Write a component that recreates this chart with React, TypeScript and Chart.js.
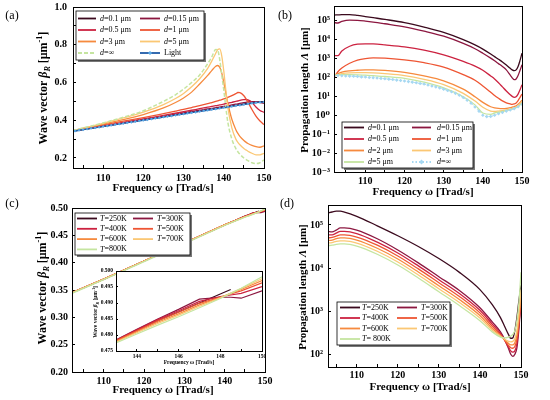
import React, { useEffect, useRef } from "react";
import { Chart, registerables } from "chart.js";

Chart.register(...registerables);

const SERIF = '"Liberation Serif", "DejaVu Serif", serif';
Chart.defaults.font.family = SERIF;
Chart.defaults.color = "#000";

// ---------------- colours ----------------
const C1 = "#3b0a1e";
const C2 = "#8c1740";
const C3 = "#cc2240";
const C4 = "#ee5533";
const C5 = "#f68a3e";
const C6 = "#fbc774";
const C7 = "#c5e5a0";
const LIGHT_LINE = "#1f5aa6";
const LIGHT_MARK = "#5aaae6";
const INF_BLUE = "#a6d8f2";

// ---------------- panel (a): wave vector vs frequency, thickness d ----------------
const aLabels = ["d=0.1 μm", "d=0.15 μm", "d=0.5 μm", "d=1 μm", "d=3 μm", "d=5 μm", "d=∞", "Light"];
const aFreq = [102.5, 105, 110, 115, 120, 125, 128, 130, 132, 134, 136, 137, 138, 138.5, 139, 139.5, 140, 140.5, 141, 142, 143, 143.5, 144, 145, 145.5, 146, 147, 148, 149, 150];
const aBeta01 = [0.343, 0.351, 0.368, 0.385, 0.402, 0.419, 0.429, 0.436, 0.443, 0.449, 0.456, 0.459, 0.463, 0.464, 0.466, 0.468, 0.469, 0.471, 0.473, 0.476, 0.479, 0.481, 0.483, 0.486, 0.488, 0.489, 0.492, 0.495, 0.498, 0.499];
const aBeta015 = [0.343, 0.352, 0.369, 0.386, 0.404, 0.421, 0.432, 0.439, 0.446, 0.453, 0.46, 0.463, 0.467, 0.468, 0.47, 0.472, 0.474, 0.475, 0.477, 0.481, 0.485, 0.487, 0.489, 0.493, 0.495, 0.497, 0.499, 0.498, 0.494, 0.49];
const aBeta05 = [0.344, 0.353, 0.371, 0.389, 0.407, 0.426, 0.437, 0.445, 0.453, 0.461, 0.469, 0.473, 0.477, 0.479, 0.481, 0.483, 0.486, 0.488, 0.49, 0.495, 0.5, 0.502, 0.505, 0.509, 0.51, 0.508, 0.495, 0.47, 0.452, 0.442];
const aBeta1 = [0.345, 0.355, 0.375, 0.395, 0.414, 0.435, 0.448, 0.457, 0.467, 0.477, 0.488, 0.494, 0.5, 0.503, 0.506, 0.509, 0.513, 0.517, 0.521, 0.53, 0.541, 0.547, 0.546, 0.53, 0.515, 0.497, 0.457, 0.422, 0.396, 0.377];
const aBeta3 = [0.345, 0.357, 0.38, 0.403, 0.43, 0.465, 0.494, 0.518, 0.549, 0.592, 0.638, 0.663, 0.686, 0.69, 0.68, 0.65, 0.6, 0.545, 0.49, 0.405, 0.35, 0.33, 0.315, 0.293, 0.284, 0.277, 0.267, 0.26, 0.257, 0.264];
const aBeta5 = [0.345, 0.358, 0.384, 0.412, 0.443, 0.483, 0.515, 0.542, 0.577, 0.62, 0.675, 0.713, 0.755, 0.775, 0.778, 0.74, 0.66, 0.56, 0.47, 0.36, 0.3, 0.283, 0.27, 0.25, 0.243, 0.236, 0.225, 0.217, 0.217, 0.225];
const aBetaInf = [0.345, 0.359, 0.386, 0.416, 0.45, 0.5, 0.535, 0.565, 0.6, 0.64, 0.7, 0.735, 0.775, 0.77, 0.72, 0.64, 0.56, 0.47, 0.39, 0.3, 0.25, 0.233, 0.22, 0.2, 0.193, 0.186, 0.175, 0.17, 0.175, 0.19];
const aLightFreq = [102.5, 103, 104, 105, 106, 107, 108, 109, 110, 111, 112, 113, 114, 115, 116, 117, 118, 119, 120, 121, 122, 123, 124, 125, 126, 127, 128, 129, 130, 131, 132, 133, 134, 135, 136, 137, 138, 139, 140, 141, 142, 143, 144, 145, 146, 147, 148, 149, 150];
const aLightBeta = [0.342, 0.343, 0.347, 0.35, 0.353, 0.357, 0.36, 0.363, 0.367, 0.37, 0.373, 0.377, 0.38, 0.383, 0.387, 0.39, 0.393, 0.397, 0.4, 0.403, 0.407, 0.41, 0.413, 0.417, 0.42, 0.423, 0.427, 0.43, 0.433, 0.437, 0.44, 0.443, 0.447, 0.45, 0.453, 0.457, 0.46, 0.463, 0.467, 0.47, 0.473, 0.477, 0.48, 0.483, 0.487, 0.49, 0.493, 0.495, 0.497];
const aXTicks = [105, 110, 115, 120, 125, 130, 135, 140, 145, 150];
const aYTicks = [0.2, 0.3, 0.4, 0.5, 0.6, 0.7, 0.8, 0.9, 1.0];

// ---------------- panel (b): propagation length (powers of ten, μm) ----------------
const bLabels = ["d=0.1 μm", "d=0.15 μm", "d=0.5 μm", "d=1 μm", "d=2 μm", "d=3 μm", "d=5 μm", "d=∞"];
const bFreq = [102, 103, 104, 106, 108, 110, 112, 115, 120, 125, 130, 135, 138, 140, 142, 143, 144, 145, 146, 147, 147.5, 148, 148.5, 149, 149.5, 150];
const bExp01 = [5.3, 5.31, 5.32, 5.32, 5.28, 5.22, 5.16, 5.07, 4.9, 4.66, 4.38, 4.0, 3.72, 3.5, 3.24, 3.1, 2.96, 2.82, 2.66, 2.48, 2.4, 2.36, 2.4, 2.58, 2.9, 3.28];
const bExp015 = [4.9, 4.88, 4.96, 5.03, 5.02, 4.98, 4.93, 4.84, 4.68, 4.45, 4.18, 3.8, 3.52, 3.28, 3.02, 2.88, 2.73, 2.58, 2.4, 2.12, 1.98, 1.88, 1.92, 2.1, 2.38, 2.67];
const bExp05 = [3.15, 3.15, 3.4, 3.65, 3.76, 3.78, 3.77, 3.72, 3.62, 3.45, 3.2, 2.85, 2.6, 2.38, 2.08, 1.92, 1.72, 1.5, 1.28, 1.08, 1.0, 0.95, 0.98, 1.12, 1.35, 1.62];
const bExp1 = [2.0, 2.3, 2.5, 2.75, 2.92, 3.0, 3.03, 3.02, 2.93, 2.78, 2.55, 2.15, 1.85, 1.55, 1.22, 1.05, 0.9, 0.76, 0.66, 0.6, 0.58, 0.6, 0.65, 0.78, 0.95, 1.12];
const bExp2 = [2.1, 2.2, 2.28, 2.35, 2.38, 2.4, 2.4, 2.37, 2.27, 2.08, 1.82, 1.38, 0.98, 0.68, 0.45, 0.39, 0.36, 0.35, 0.36, 0.4, 0.43, 0.46, 0.5, 0.58, 0.68, 0.8];
const bExp3 = [2.1, 2.15, 2.2, 2.24, 2.25, 2.25, 2.24, 2.2, 2.1, 1.9, 1.62, 1.16, 0.75, 0.42, 0.22, 0.2, 0.22, 0.25, 0.29, 0.33, 0.36, 0.39, 0.43, 0.5, 0.6, 0.72];
const bExp5 = [2.12, 2.13, 2.15, 2.15, 2.14, 2.12, 2.1, 2.05, 1.95, 1.75, 1.45, 0.98, 0.55, 0.12, 0.05, 0.12, 0.16, 0.2, 0.25, 0.3, 0.33, 0.36, 0.4, 0.46, 0.55, 0.65];
const bInfFreq = [102, 103, 104, 105, 106, 107, 108, 109, 110, 111, 112, 113, 114, 115, 116, 117, 118, 119, 120, 121, 122, 123, 124, 125, 126, 127, 128, 129, 130, 131, 132, 133, 134, 135, 136, 137, 138, 139, 140, 141, 142, 143, 144, 145, 146, 147, 148, 149, 150];
const bExpInf = [2.1, 2.1, 2.09, 2.08, 2.07, 2.06, 2.05, 2.03, 2.02, 2.0, 1.99, 1.97, 1.95, 1.93, 1.91, 1.89, 1.86, 1.84, 1.81, 1.78, 1.75, 1.72, 1.68, 1.65, 1.6, 1.55, 1.5, 1.44, 1.38, 1.31, 1.24, 1.16, 1.06, 0.94, 0.8, 0.64, 0.44, 0.22, 0.0, -0.07, -0.06, 0.0, 0.08, 0.15, 0.22, 0.28, 0.35, 0.45, 0.58];
const bXTicks = [105, 110, 115, 120, 125, 130, 135, 140, 145, 150];
const bYTicks = [1e-3, 1e-2, 1e-1, 1, 1e1, 1e2, 1e3, 1e4, 1e5];

// ---------------- panel (c): wave vector vs frequency, temperature T ----------------
const cLabels = ["T=250K", "T=300K", "T=400K", "T=500K", "T=600K", "T=700K", "T=800K"];
const cFreq = [102.1, 110, 120, 130, 140, 143, 144, 145, 146, 147, 148, 148.5, 149, 150];
const cBeta250 = [0.345, 0.37, 0.403, 0.436, 0.469, 0.4783, 0.4815, 0.4845, 0.4872, 0.49, 0.4928, 0.4942, null, null];
const cBeta300 = [0.345, 0.37, 0.403, 0.436, 0.469, 0.4785, 0.4818, 0.485, 0.488, 0.4912, 0.4918, 0.4918, 0.4915, 0.4938];
const cBeta400 = [0.345, 0.37, 0.403, 0.436, 0.469, 0.4784, 0.4816, 0.4848, 0.4876, 0.4905, 0.492, 0.4925, 0.493, 0.4951];
const cBeta500 = [0.345, 0.37, 0.403, 0.436, 0.469, 0.4782, 0.4813, 0.4844, 0.4871, 0.4899, 0.4918, 0.4928, 0.4938, 0.4963];
const cBeta600 = [0.345, 0.37, 0.403, 0.436, 0.469, 0.478, 0.481, 0.484, 0.4866, 0.4894, 0.4917, 0.493, 0.4942, 0.497];
const cBeta700 = [0.345, 0.37, 0.403, 0.436, 0.469, 0.4778, 0.4807, 0.4836, 0.4862, 0.489, 0.4916, 0.4931, 0.4945, 0.4976];
const cBeta800 = [0.344, 0.369, 0.402, 0.435, 0.468, 0.4775, 0.4803, 0.4831, 0.4857, 0.4885, 0.4914, 0.493, 0.4946, 0.4982];
const cXTicks = [105, 110, 115, 120, 125, 130, 135, 140, 145, 150];
const cYTicks = [0.2, 0.25, 0.3, 0.35, 0.4, 0.45, 0.5];
const insetXTicks = [144, 145, 146, 147, 148, 149, 150];
const insetYTicks = [0.475, 0.48, 0.485, 0.49, 0.495, 0.5];

// ---------------- panel (d): propagation length (powers of ten, μm), temperature ----------------
const dLabels = ["T=250K", "T=300K", "T=400K", "T=500K", "T=600K", "T=700K", "T= 800K"];
const dFreq = [103, 104, 105, 106, 107, 110, 115, 120, 125, 130, 135, 140, 143, 145, 146, 147, 147.5, 148, 148.5, 149, 149.5, 150];
const dExp250 = [5.28, 5.3, 5.32, 5.32, 5.3, 5.2, 4.98, 4.75, 4.5, 4.22, 3.9, 3.5, 3.15, 2.85, 2.65, 2.45, 2.37, 2.38, 2.55, 2.85, 3.25, 3.6];
const dExp300 = [4.85, 4.84, 4.88, 4.93, 4.93, 4.88, 4.68, 4.42, 4.12, 3.8, 3.48, 3.08, 2.75, 2.52, 2.35, 2.12, 2.0, 1.95, 2.0, 2.15, 2.6, 3.25];
const dExp400 = [4.77, 4.77, 4.81, 4.85, 4.85, 4.8, 4.6, 4.35, 4.05, 3.73, 3.41, 3.02, 2.7, 2.48, 2.33, 2.16, 2.08, 2.05, 2.08, 2.25, 2.7, 3.3];
const dExp500 = [4.7, 4.71, 4.74, 4.77, 4.77, 4.72, 4.53, 4.28, 3.98, 3.66, 3.34, 2.96, 2.65, 2.45, 2.33, 2.2, 2.15, 2.14, 2.18, 2.35, 2.75, 3.25];
const dExp600 = [4.64, 4.65, 4.68, 4.7, 4.7, 4.65, 4.46, 4.21, 3.91, 3.59, 3.27, 2.9, 2.6, 2.43, 2.34, 2.25, 2.22, 2.22, 2.27, 2.45, 2.85, 3.35];
const dExp700 = [4.58, 4.59, 4.62, 4.63, 4.63, 4.58, 4.39, 4.14, 3.84, 3.52, 3.2, 2.84, 2.56, 2.42, 2.35, 2.3, 2.29, 2.3, 2.36, 2.55, 2.95, 3.5];
const dExp800 = [4.52, 4.53, 4.55, 4.56, 4.56, 4.51, 4.32, 4.07, 3.77, 3.45, 3.13, 2.78, 2.52, 2.4, 2.38, 2.4, 2.42, 2.46, 2.55, 2.78, 3.2, 3.9];
const dXTicks = [105, 110, 115, 120, 125, 130, 135, 140, 145, 150];
const dYTicks = [1e2, 1e3, 1e4, 1e5];

// ---------------- helpers ----------------
type Seg = { t: string; i?: boolean; sub?: boolean; sup?: boolean };

const WAVE: Seg[] = [{ t: "Wave vector " }, { t: "β", i: true }, { t: "R", i: true, sub: true }, { t: " [μm" }, { t: "-1", sup: true }, { t: "]" }];
const PROP: Seg[] = [{ t: "Propagation length " }, { t: "Λ", i: true }, { t: " [μm]" }];
const FREQ: Seg[] = [{ t: "Frequency ω [Trad/s]" }];

function drawRich(ctx: any, segs: Seg[], x: number, y: number, size: number, rot: number, bold: boolean, align: string) {
  ctx.save();
  ctx.translate(x, y);
  ctx.rotate(rot);
  ctx.textBaseline = "middle";
  ctx.textAlign = "left";
  ctx.fillStyle = "#000";
  const fontFor = (s: Seg) => `${s.i ? "italic " : ""}${bold ? "bold " : ""}${s.sub || s.sup ? size * 0.68 : size}px ${SERIF}`;
  let total = 0;
  const ws = segs.map((s) => {
    ctx.font = fontFor(s);
    const w = ctx.measureText(s.t).width;
    total += w;
    return w;
  });
  let cx = align === "center" ? -total / 2 : 0;
  segs.forEach((s, k) => {
    ctx.font = fontFor(s);
    const dy = s.sub ? size * 0.3 : s.sup ? -size * 0.33 : 0;
    ctx.fillText(s.t, cx, dy);
    cx += ws[k];
  });
  ctx.restore();
}

function labelSegs(label: string): Seg[] {
  if (/^[dT]=/.test(label)) return [{ t: label[0], i: true }, { t: label.slice(1) }];
  return [{ t: label }];
}

function drawMarker(ctx: any, x: number, y: number, r: number, color: string) {
  ctx.save();
  ctx.fillStyle = color;
  ctx.beginPath();
  ctx.moveTo(x, y - r);
  ctx.lineTo(x + r, y);
  ctx.lineTo(x, y + r);
  ctx.lineTo(x - r, y);
  ctx.closePath();
  ctx.fill();
  ctx.restore();
}

type TextItem = { segs: Seg[]; x: number; y: number; size: number; rot?: number };
type LegendSpec = { x: number; y: number; w: number; h: number; rows: number[]; cols: { l1: number; l2: number; t: number }[]; size: number; lineW: number };

function makePlugin(texts: TextItem[], legend: LegendSpec | null, whiteBg: boolean) {
  return {
    id: "custom-decor",
    beforeDraw(chart: any) {
      if (!whiteBg) return;
      const a = chart.chartArea;
      const ctx = chart.ctx;
      ctx.save();
      ctx.fillStyle = "#fff";
      ctx.fillRect(a.left, a.top, a.right - a.left, a.bottom - a.top);
      ctx.restore();
    },
    afterDraw(chart: any) {
      const ctx = chart.ctx;
      const a = chart.chartArea;
      ctx.save();
      ctx.strokeStyle = "#000";
      ctx.lineWidth = 1;
      ctx.strokeRect(Math.round(a.left) + 0.5, Math.round(a.top) + 0.5, Math.round(a.right - a.left), Math.round(a.bottom - a.top));
      ctx.restore();
      texts.forEach((t) => drawRich(ctx, t.segs, t.x, t.y, t.size, t.rot || 0, true, "center"));
      if (legend) {
        const L = legend;
        ctx.save();
        ctx.fillStyle = "#777";
        ctx.fillRect(L.x + 2, L.y + 2, L.w, L.h);
        ctx.fillStyle = "#fff";
        ctx.fillRect(L.x, L.y, L.w, L.h);
        ctx.strokeStyle = "#000";
        ctx.lineWidth = 0.8;
        ctx.strokeRect(L.x, L.y, L.w, L.h);
        chart.data.datasets.forEach((ds: any, i: number) => {
          const r = Math.floor(i / 2);
          const c = i % 2;
          const y = L.rows[r];
          const col = L.cols[c];
          ctx.beginPath();
          ctx.setLineDash(ds.borderDash || []);
          ctx.strokeStyle = ds.borderColor;
          ctx.lineWidth = L.lineW;
          ctx.moveTo(col.l1, y);
          ctx.lineTo(col.l2, y);
          ctx.stroke();
          ctx.setLineDash([]);
          if (ds.pointRadius > 0) drawMarker(ctx, (col.l1 + col.l2) / 2, y, ds.pointRadius + 0.6, ds.pointBackgroundColor);
          drawRich(ctx, labelSegs(ds.label), col.t, y, L.size, 0, false, "left");
        });
        ctx.restore();
      }
    },
  };
}

function tickFont(size: number) {
  return { family: SERIF, weight: "bold" as const, size };
}

function makeAxis(kind: string, min: number, max: number, ticks: number[], label: (v: number) => string, size: number, isX: boolean, tl: number, pad: number, fontSize: number) {
  return {
    type: kind,
    min,
    max,
    afterBuildTicks: (s: any) => {
      s.ticks = ticks.map((v) => ({ value: v }));
    },
    afterFit: (s: any) => {
      if (isX) s.height = size;
      else s.width = size;
      s.paddingLeft = 0;
      s.paddingRight = 0;
      s.paddingTop = 0;
      s.paddingBottom = 0;
    },
    ticks: {
      callback: (v: any) => label(Number(v)),
      font: tickFont(fontSize),
      color: "#000",
      padding: pad,
      autoSkip: false,
      maxRotation: 0,
      minRotation: 0,
    },
    grid: { display: true, drawOnChartArea: false, drawTicks: true, tickLength: tl, color: "#000", lineWidth: 1 },
    border: { display: true, color: "#000", width: 1 },
    title: { display: false },
  };
}

const SUP: Record<string, string> = { "-": "⁻", "0": "⁰", "1": "¹", "2": "²", "3": "³", "4": "⁴", "5": "⁵", "6": "⁶" };
const powLabel = (v: number) => "10" + String(Math.round(Math.log10(v))).split("").map((ch) => SUP[ch]).join("");
const evenTen = (v: number) => (Math.round(v) % 10 === 0 ? String(Math.round(v)) : "");

function series(label: string, xs: number[], ys: (number | null)[], color: string, extra: any = {}) {
  return {
    label,
    data: xs.map((x, i) => ({ x, y: ys[i] })),
    borderColor: color,
    backgroundColor: color,
    borderWidth: 1.3,
    pointRadius: 0,
    cubicInterpolationMode: "monotone",
    fill: false,
    spanGaps: false,
    ...extra,
  };
}

function logSeries(label: string, xs: number[], exps: number[], color: string, extra: any = {}) {
  return series(label, xs, exps.map((e) => Math.pow(10, e)), color, extra);
}

function withOrder(ds: any[]) {
  return ds.map((d, i) => ({ ...d, order: ds.length - i }));
}

function baseOptions(padding: any, x: any, y: any) {
  return {
    responsive: false,
    maintainAspectRatio: false,
    animation: false,
    events: [],
    layout: { padding },
    plugins: { legend: { display: false }, tooltip: { enabled: false }, title: { display: false } },
    scales: { x, y },
  };
}

const ROT = -Math.PI / 2;

// ---------------- chart configs ----------------
function configA() {
  const datasets = withOrder([
    series(aLabels[0], aFreq, aBeta01, C1),
    series(aLabels[1], aFreq, aBeta015, C2),
    series(aLabels[2], aFreq, aBeta05, C3),
    series(aLabels[3], aFreq, aBeta1, C4),
    series(aLabels[4], aFreq, aBeta3, C5),
    series(aLabels[5], aFreq, aBeta5, C6),
    series(aLabels[6], aFreq, aBetaInf, C7, { borderDash: [4, 2], borderWidth: 1.5 }),
    series(aLabels[7], aLightFreq, aLightBeta, LIGHT_LINE, { pointRadius: 1.5, pointStyle: "rectRot", pointBackgroundColor: LIGHT_MARK, pointBorderWidth: 0, cubicInterpolationMode: "default", tension: 0 }),
  ]);
  return {
    type: "line",
    data: { datasets },
    options: baseOptions(
      { left: 0, top: 7, right: 11, bottom: 0 },
      makeAxis("linear", 102.5, 150, aXTicks, evenTen, 32, true, -3, 7, 10),
      makeAxis("linear", 0.147, 1.0, aYTicks, (v) => (Math.round(v * 10) % 2 === 0 ? v.toFixed(1) : ""), 73, false, -3, 9, 10)
    ),
    plugins: [
      makePlugin(
        [
          { segs: WAVE, x: 44, y: 88, size: 12, rot: ROT },
          { segs: FREQ, x: 163, y: 188, size: 11 },
        ],
        { x: 76, y: 11, w: 128, h: 49, rows: [18.5, 30, 41.5, 53], cols: [{ l1: 78, l2: 96, t: 100 }, { l1: 140, l2: 160, t: 164 }], size: 8, lineW: 1.8 },
        false
      ),
    ],
  };
}

function configB() {
  const datasets = withOrder([
    logSeries(bLabels[0], bFreq, bExp01, C1),
    logSeries(bLabels[1], bFreq, bExp015, C2),
    logSeries(bLabels[2], bFreq, bExp05, C3),
    logSeries(bLabels[3], bFreq, bExp1, C4),
    logSeries(bLabels[4], bFreq, bExp2, C5),
    logSeries(bLabels[5], bFreq, bExp3, C6),
    logSeries(bLabels[6], bFreq, bExp5, C7),
    logSeries(bLabels[7], bInfFreq, bExpInf, INF_BLUE, { borderDash: [1.5, 2], borderWidth: 1, pointRadius: 1.8, pointStyle: "rectRot", pointBackgroundColor: INF_BLUE, pointBorderWidth: 0 }),
  ]);
  return {
    type: "line",
    data: { datasets },
    options: baseOptions(
      { left: 0, top: 6, right: 28, bottom: 0 },
      makeAxis("linear", 102, 150, bXTicks, evenTen, 28, true, -3, 6, 10),
      makeAxis("logarithmic", 1e-3, 6.0e5, bYTicks, powLabel, 59, false, -3, 7, 10)
    ),
    plugins: [
      makePlugin(
        [
          { segs: PROP, x: 30, y: 90, size: 11, rot: ROT },
          { segs: FREQ, x: 148, y: 192, size: 11 },
        ],
        { x: 67, y: 122, w: 131, h: 46, rows: [127.5, 139, 150.5, 162], cols: [{ l1: 69, l2: 89, t: 93 }, { l1: 137, l2: 156, t: 162 }], size: 8, lineW: 1.8 },
        false
      ),
    ],
  };
}

function cDatasets() {
  return withOrder([
    series(cLabels[0], cFreq, cBeta250, C1, { cubicInterpolationMode: "default", tension: 0 }),
    series(cLabels[1], cFreq, cBeta300, C2, { cubicInterpolationMode: "default", tension: 0 }),
    series(cLabels[2], cFreq, cBeta400, C3, { cubicInterpolationMode: "default", tension: 0 }),
    series(cLabels[3], cFreq, cBeta500, C4, { cubicInterpolationMode: "default", tension: 0 }),
    series(cLabels[4], cFreq, cBeta600, C5, { cubicInterpolationMode: "default", tension: 0 }),
    series(cLabels[5], cFreq, cBeta700, C6, { cubicInterpolationMode: "default", tension: 0 }),
    series(cLabels[6], cFreq, cBeta800, C7, { cubicInterpolationMode: "default", tension: 0 }),
  ]);
}

function configC() {
  return {
    type: "line",
    data: { datasets: cDatasets() },
    options: baseOptions(
      { left: 0, top: 8, right: 10, bottom: 0 },
      makeAxis("linear", 102.1, 150, cXTicks, evenTen, 28, true, -3, 6, 10),
      makeAxis("linear", 0.2, 0.5, cYTicks, (v) => v.toFixed(2), 72, false, -3, 7, 10)
    ),
    plugins: [
      makePlugin(
        [
          { segs: WAVE, x: 43, y: 88, size: 12, rot: ROT },
          { segs: FREQ, x: 163, y: 190, size: 11 },
        ],
        { x: 75, y: 13, w: 115, h: 42, rows: [18.5, 28.8, 39.1, 49.4], cols: [{ l1: 77, l2: 97, t: 100 }, { l1: 133, l2: 153, t: 157 }], size: 8, lineW: 1.8 },
        false
      ),
    ],
  };
}

function configInset() {
  return {
    type: "line",
    data: { datasets: cDatasets().map((d: any) => ({ ...d, borderWidth: 1.2 })) },
    options: baseOptions(
      { left: 0, top: 9, right: 4, bottom: 0 },
      makeAxis("linear", 143, 150, insetXTicks, (v) => (Math.round(v) % 2 === 0 ? String(Math.round(v)) : ""), 16, true, -2, 4.5, 5.5),
      makeAxis("linear", 0.475, 0.5, insetYTicks, (v) => v.toFixed(3), 30, false, -2, 5, 5.5)
    ),
    plugins: [
      makePlugin(
        [
          { segs: WAVE, x: 10, y: 50, size: 5.5, rot: ROT },
          { segs: FREQ, x: 103, y: 101, size: 5.5 },
        ],
        null,
        true
      ),
    ],
  };
}

function configD() {
  const datasets = withOrder([
    logSeries(dLabels[0], dFreq, dExp250, C1),
    logSeries(dLabels[1], dFreq, dExp300, C2),
    logSeries(dLabels[2], dFreq, dExp400, C3),
    logSeries(dLabels[3], dFreq, dExp500, C4),
    logSeries(dLabels[4], dFreq, dExp600, C5),
    logSeries(dLabels[5], dFreq, dExp700, C6),
    logSeries(dLabels[6], dFreq, dExp800, C7),
  ]);
  return {
    type: "line",
    data: { datasets },
    options: baseOptions(
      { left: 0, top: 5, right: 29, bottom: 0 },
      makeAxis("linear", 103, 150, dXTicks, evenTen, 33, true, -3, 5, 10),
      makeAxis("logarithmic", 50.7, 2.9e5, dYTicks, powLabel, 53, false, -3, 8, 10)
    ),
    plugins: [
      makePlugin(
        [
          { segs: PROP, x: 28, y: 87, size: 11, rot: ROT },
          { segs: FREQ, x: 145, y: 187, size: 11 },
        ],
        { x: 62, y: 102, w: 113, h: 43, rows: [107.5, 118, 128.5, 139], cols: [{ l1: 65, l2: 85, t: 87 }, { l1: 122, l2: 142, t: 146 }], size: 8, lineW: 1.8 },
        false
      ),
    ],
  };
}

// ---------------- components ----------------
function ChartCanvas({ left, top, width, height, make, z }: { left: number; top: number; width: number; height: number; make: () => any; z: number }) {
  const ref = useRef<HTMLCanvasElement | null>(null);
  useEffect(() => {
    if (!ref.current) return;
    const chart = new Chart(ref.current, make());
    return () => chart.destroy();
  }, []);
  return <canvas ref={ref} width={width} height={height} style={{ position: "absolute", left, top, width, height, zIndex: z }} />;
}

function PanelLabel({ text, x, y }: { text: string; x: number; y: number }) {
  return (
    <div style={{ position: "absolute", left: x, top: y, transform: "translate(-50%, -50%)", font: `12px ${SERIF}`, color: "#000", zIndex: 5, whiteSpace: "nowrap" }}>
      {text}
    </div>
  );
}

export default function App() {
  return (
    <div style={{ position: "fixed", left: 0, top: 0, width: 550, height: 400, background: "#fff", overflow: "hidden" }}>
      <ChartCanvas left={0} top={0} width={275} height={200} make={configA} z={1} />
      <ChartCanvas left={275} top={0} width={275} height={200} make={configB} z={1} />
      <ChartCanvas left={0} top={200} width={275} height={200} make={configC} z={1} />
      <ChartCanvas left={275} top={200} width={275} height={200} make={configD} z={1} />
      <ChartCanvas left={86} top={262} width={180} height={105} make={configInset} z={2} />
      <PanelLabel text="(a)" x={12} y={15} />
      <PanelLabel text="(b)" x={285} y={15} />
      <PanelLabel text="(c)" x={12} y={203} />
      <PanelLabel text="(d)" x={287} y={203} />
    </div>
  );
}
